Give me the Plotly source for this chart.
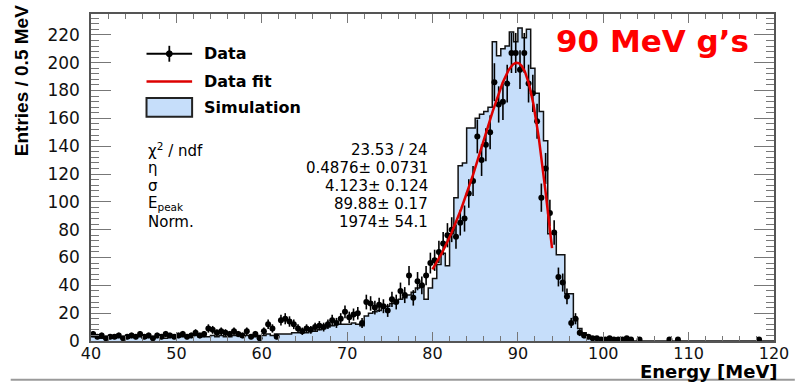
import numpy as np
import plotly.graph_objects as go

# ---------------- data ----------------
BIN_START = 40.0
BIN_WIDTH = 0.5

# Data counts per 0.5 MeV bin, 40.0 ... 119.5 (bin lower edges)
data_counts = [
    5, 3, 4, 2, 3, 3, 4, 2, 3, 4,            # 40.0 - 44.5
    3, 5, 3, 4, 2, 4, 3, 5, 4, 3,            # 45.0 - 49.5
    4, 5, 3, 4, 6, 4, 5, 9, 8, 6,            # 50.0 - 54.5
    7, 6, 5, 7, 5, 4, 7, 3, 5, 2,            # 55.0 - 59.5
    7, 12, 9, 3, 15, 16, 14, 12, 9, 7,       # 60.0 - 64.5
    9, 8, 10, 11, 10, 12, 15, 13, 16, 21,    # 65.0 - 69.5
    17, 19, 20, 13, 28, 27, 24, 26, 25, 22,  # 70.0 - 74.5
    30, 28, 36, 33, 47, 31, 43, 40, 47, 56,  # 75.0 - 79.5
    58, 64, 70, 76, 80, 75, 85, 88, 106, 115,        # 80.0 - 84.5
    147, 130, 141, 150, 186, 170, 172, 185, 207, 207,  # 85.0 - 89.5
    195, 207, 185, 178, 158, 103, 124, 92, 78, 46,   # 90.0 - 94.5
    42, 32, 13, 16, 6, 4, 3, 2, 2, 1,        # 95.0 - 99.5
    1, 2, 1, 1, 1, 2, 1, 0, 1, 0,            # 100.0 - 104.5
    0, 0, 0, 0, 0, 1, 0, 1, 0, 0,            # 105.0 - 109.5
    0, 0, 0, 0, 0, 0, 0, 0, 0, 0,            # 110.0 - 114.5
    0, 0, 0, 0, 0, 0, 1, 0, 0, 0,            # 115.0 - 119.5
]

# Simulation histogram per 0.5 MeV bin
sim_counts = [
    3, 3, 2, 3, 3, 2, 3, 3, 2, 3,
    3, 3, 2, 3, 3, 3, 3, 2, 3, 3,
    3, 3, 3, 3, 4, 3, 3, 3, 4, 3,
    4, 3, 3, 4, 4, 3, 4, 4, 3, 4,
    4, 5, 4, 5, 5, 5, 5, 6, 6, 6,
    6, 7, 7, 8, 9, 10, 11, 12, 12, 12,
    12, 13, 12, 11, 18, 20, 21, 22, 24, 25,
    27, 28, 30, 31, 33, 35, 38, 40, 30, 38,
    45, 55, 63, 54, 77, 103, 126, 128, 153, 153,
    160, 163, 165, 168, 215, 205, 210, 212, 222, 215,
    225, 218, 224, 196, 178, 165, 144, 77, 77, 62,
    62, 34, 34, 16, 9, 6, 4, 3, 2, 2,
    1, 1, 1, 1, 1, 0, 1, 0, 0, 0,
    0, 0, 0, 0, 0, 0, 0, 0, 0, 0,
    0, 0, 0, 0, 0, 0, 0, 0, 0, 0,
    0, 0, 0, 0, 0, 0, 0, 0, 0, 0,
]

# Fit (Novosibirsk-type) parameters as printed in the stats box
fit_eta = 0.4876
fit_sigma = 4.123
fit_epeak = 89.88
fit_peak_height = 200.0      # height of the red curve at its maximum (read)
fit_range = [80.0, 94.0]

stat_names = ["χ<sup>2</sup> / ndf", "η", "σ", "E<sub>peak</sub>", "Norm."]
stat_values = ["23.53 / 24", "0.4876± 0.0731", "4.123± 0.124", "89.88± 0.17", "1974± 54.1"]

legend_labels = ["Data", "Data fit", "Simulation"]
title_text = "90 MeV g’s"
x_title = "Energy [MeV]"
y_title = "Entries / 0.5 MeV"

x_range = [40, 120]
y_range = [0, 235]

# ---------------- derived ----------------
n_bins = len(data_counts)
lo_edges = BIN_START + BIN_WIDTH * np.arange(n_bins)
centers = lo_edges + BIN_WIDTH / 2
data_arr = np.array(data_counts, dtype=float)
mask = data_arr > 0
dx = centers[mask]
dy = data_arr[mask]
derr = np.sqrt(dy)

sx = np.append(lo_edges, lo_edges[-1] + BIN_WIDTH)
sy = np.append(np.array(sim_counts, dtype=float), sim_counts[-1])

sq = np.sqrt(np.log(4.0))
lam = np.sinh(fit_eta * sq) / (fit_sigma * fit_eta * sq)
fx = np.linspace(fit_range[0], fit_range[1], 300)
q = 1.0 - lam * fit_eta * (fx - fit_epeak)
fy = fit_peak_height * np.exp(-0.5 * np.log(q) ** 2 / fit_eta ** 2)

BLUE = "rgb(198,222,250)"
RED_FIT = "#dd0000"

fig = go.Figure()
fig.add_trace(go.Scatter(
    x=sx, y=sy, mode="lines", line=dict(shape="hv", color="#111111", width=1.5),
    fill="tozeroy", fillcolor=BLUE, hoverinfo="skip", showlegend=False))
fig.add_trace(go.Scatter(
    x=dx, y=dy, mode="markers",
    marker=dict(color="black", size=6),
    error_y=dict(type="data", array=derr, width=0, thickness=1.6, color="black"),
    error_x=dict(type="constant", value=BIN_WIDTH / 2, width=0, thickness=1.6, color="black"),
    showlegend=False))
fig.add_trace(go.Scatter(
    x=fx, y=fy, mode="lines", line=dict(color=RED_FIT, width=2.5), showlegend=False))

W, H = 801, 383
L, R, T, B = 91, 780, 12, 341
def px(x):
    return (x - L) / (R - L)
def py(y):
    return (B - y) / (B - T)

axis_common = dict(
    showline=True, linecolor="#555555", linewidth=1.5, mirror="allticks",
    ticks="inside", tickcolor="#777777", tickwidth=1.2, showgrid=False,
    zeroline=False,
)
fig.update_xaxes(range=x_range, tick0=40, dtick=10, ticklen=9,
                 minor=dict(dtick=2, ticklen=5, ticks="inside", tickcolor="#777777", tickwidth=1.2),
                 ticklabelstandoff=-3,
                 tickfont=dict(family="DejaVu Sans", size=16, color="#111111"), **axis_common)
fig.update_yaxes(range=y_range, tick0=0, dtick=20, ticklen=20,
                 minor=dict(dtick=4, ticklen=8, ticks="inside", tickcolor="#777777", tickwidth=1.2),
                 ticklabelstandoff=6,
                 tickfont=dict(family="DejaVu Sans", size=17, color="#111111"), **axis_common)

shapes = []
annotations = []
# custom legend
lx0, lx1, lxc = 147, 193, 170
rows_y = [52, 80, 106]
shapes.append(dict(type="line", xref="paper", yref="paper", x0=px(lx0), x1=px(lx1),
                   y0=py(rows_y[0]), y1=py(rows_y[0]), line=dict(color="black", width=1.8)))
shapes.append(dict(type="line", xref="paper", yref="paper", x0=px(lxc), x1=px(lxc),
                   y0=py(rows_y[0] - 8), y1=py(rows_y[0] + 8), line=dict(color="black", width=1.8)))
shapes.append(dict(type="circle", xref="paper", yref="paper", x0=px(lxc - 3), x1=px(lxc + 3),
                   y0=py(rows_y[0] - 3), y1=py(rows_y[0] + 3), fillcolor="black", line=dict(color="black", width=1)))
shapes.append(dict(type="line", xref="paper", yref="paper", x0=px(lx0), x1=px(lx1),
                   y0=py(rows_y[1]), y1=py(rows_y[1]), line=dict(color=RED_FIT, width=2.5)))
shapes.append(dict(type="rect", xref="paper", yref="paper", x0=px(lx0), x1=px(lx1),
                   y0=py(rows_y[2] - 9.5), y1=py(rows_y[2] + 9.5), fillcolor=BLUE,
                   line=dict(color="#222222", width=2)))
for lab, yy in zip(legend_labels, rows_y):
    annotations.append(dict(xref="paper", yref="paper", x=px(203), y=py(yy), text=lab,
                            showarrow=False, xanchor="left", yanchor="middle",
                            font=dict(family="DejaVu Sans", size=16, color="black", weight="bold")))

# stats box text
stat_rows = [149, 167, 185, 203, 221]
for name, val, yy in zip(stat_names, stat_values, stat_rows):
    annotations.append(dict(xref="paper", yref="paper", x=px(146), y=py(yy), text=name,
                            showarrow=False, xanchor="left", yanchor="middle",
                            font=dict(family="DejaVu Sans", size=15, color="black")))
    annotations.append(dict(xref="paper", yref="paper", x=px(433), y=py(yy), text=val,
                            showarrow=False, xanchor="right", yanchor="middle",
                            font=dict(family="DejaVu Sans", size=15, color="black")))

# red title
annotations.append(dict(xref="paper", yref="paper", x=px(558), y=py(39), text=title_text,
                        showarrow=False, xanchor="left", yanchor="middle",
                        font=dict(family="DejaVu Sans", size=31, color="#ff0000", weight="bold")))
# axis titles
annotations.append(dict(xref="paper", yref="paper", x=px(786), y=py(372), text=x_title,
                        showarrow=False, xanchor="right", yanchor="middle",
                        font=dict(family="DejaVu Sans", size=18, color="black", weight="bold")))
annotations.append(dict(xref="paper", yref="paper", x=px(21), y=py(79), text=y_title,
                        showarrow=False, xanchor="center", yanchor="middle", textangle=-90,
                        font=dict(family="Liberation Sans", size=19, color="black", weight="bold")))
# bottom grey frame line
shapes.append(dict(type="line", xref="paper", yref="paper", x0=px(10), x1=px(801),
                   y0=py(380), y1=py(380), line=dict(color="#9a9a9a", width=2)))

fig.update_layout(
    width=W, height=H, margin=dict(l=L, r=W - R, t=T, b=H - B),
    paper_bgcolor="white", plot_bgcolor="white",
    shapes=shapes, annotations=annotations, showlegend=False,
)
fig.write_html("out.html", config={"displayModeBar": False},
               post_script="document.body.style.margin='0';document.body.style.overflow='hidden';")
